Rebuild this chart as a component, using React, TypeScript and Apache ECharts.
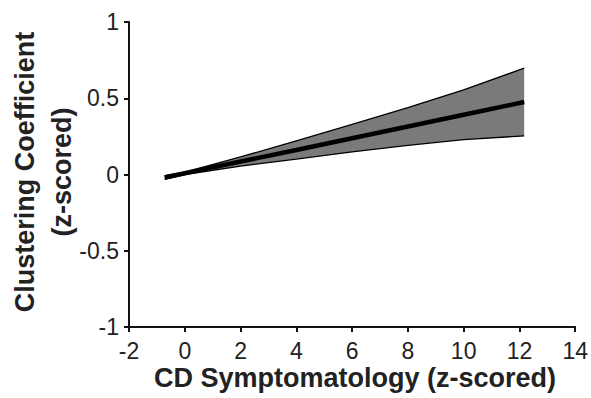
import React, { useEffect, useRef } from "react";
import * as echarts from "echarts";

const xValues = [-0.72, 0, 2, 4, 6, 8, 10, 12.17];
const fitValues = [-0.02, 0.008, 0.085, 0.161, 0.238, 0.315, 0.392, 0.475];
const upperValues = [-0.008, 0.016, 0.115, 0.221, 0.328, 0.439, 0.555, 0.697];
const lowerValues = [-0.032, 0.0, 0.055, 0.101, 0.148, 0.191, 0.229, 0.253];

const xTitle = "CD Symptomatology (z-scored)";
const yTitle1 = "Clustering Coefficient";
const yTitle2 = "(z-scored)";

const FONT = "'Liberation Sans', Arial, Helvetica, sans-serif";

export default function App() {
  const ref = useRef<HTMLDivElement>(null);
  useEffect(() => {
    if (!ref.current) return;
    const chart = echarts.init(ref.current, null, { renderer: "svg" });
    const bandRows = xValues.map((x, i) => [x, lowerValues[i], upperValues[i]]);
    const lowerData = xValues.map((x, i) => [x, lowerValues[i]]);
    const upperData = xValues.map((x, i) => [x, upperValues[i]]);
    const fitData = xValues.map((x, i) => [x, fitValues[i]]);
    chart.setOption({
      animation: false,
      backgroundColor: "#ffffff",
      grid: { left: 129, right: 12, top: 22, bottom: 71, containLabel: false },
      xAxis: {
        type: "value",
        min: -2,
        max: 14,
        interval: 2,
        splitLine: { show: false },
        axisLine: { show: true, onZero: false, lineStyle: { color: "#111", width: 2 } },
        axisTick: { show: true, inside: false, length: 5, lineStyle: { color: "#111", width: 2 } },
        axisLabel: { color: "#222", fontSize: 23, fontFamily: FONT, margin: 12 },
      },
      yAxis: {
        type: "value",
        min: -1,
        max: 1,
        interval: 0.5,
        splitLine: { show: false },
        axisLine: { show: true, onZero: false, lineStyle: { color: "#111", width: 2 } },
        axisTick: { show: true, inside: false, length: 5, lineStyle: { color: "#111", width: 2 } },
        axisLabel: { color: "#222", fontSize: 23, fontFamily: FONT, margin: 10 },
      },
      series: [
        {
          type: "custom",
          data: bandRows,
          encode: { x: 0, y: [1, 2] },
          z: 1,
          renderItem: (params: any, api: any) => {
            if (params.dataIndex !== 0) return null;
            const pts: number[][] = [];
            for (let i = 0; i < bandRows.length; i++) {
              pts.push(api.coord([bandRows[i][0], bandRows[i][2]]));
            }
            for (let i = bandRows.length - 1; i >= 0; i--) {
              pts.push(api.coord([bandRows[i][0], bandRows[i][1]]));
            }
            return {
              type: "polygon",
              shape: { points: pts },
              style: { fill: "#7a7a7a", stroke: "none" },
            };
          },
        },
        {
          type: "line",
          data: lowerData,
          symbol: "none",
          lineStyle: { color: "#000", width: 1.3 },
          z: 2,
        },
        {
          type: "line",
          data: upperData,
          symbol: "none",
          lineStyle: { color: "#000", width: 1.3 },
          z: 2,
        },
        {
          type: "line",
          data: fitData,
          symbol: "none",
          lineStyle: { color: "#000", width: 4.5, cap: "butt" },
          z: 3,
        },
      ],
      graphic: [
        {
          type: "text",
          x: 355,
          y: 378,
          style: {
            text: xTitle,
            fill: "#222",
            font: `bold 27px ${FONT}`,
            align: "center",
            verticalAlign: "middle",
          },
        },
        {
          type: "text",
          x: 25,
          y: 172,
          rotation: Math.PI / 2,
          style: {
            text: yTitle1,
            fill: "#222",
            font: `bold 27px ${FONT}`,
            align: "center",
            verticalAlign: "middle",
          },
        },
        {
          type: "text",
          x: 62,
          y: 172,
          rotation: Math.PI / 2,
          style: {
            text: yTitle2,
            fill: "#222",
            font: `bold 27px ${FONT}`,
            align: "center",
            verticalAlign: "middle",
          },
        },
      ],
    });
    return () => chart.dispose();
  }, []);
  return (
    <div
      ref={ref}
      style={{ position: "fixed", left: 0, top: 0, width: 591, height: 398 }}
    />
  );
}
